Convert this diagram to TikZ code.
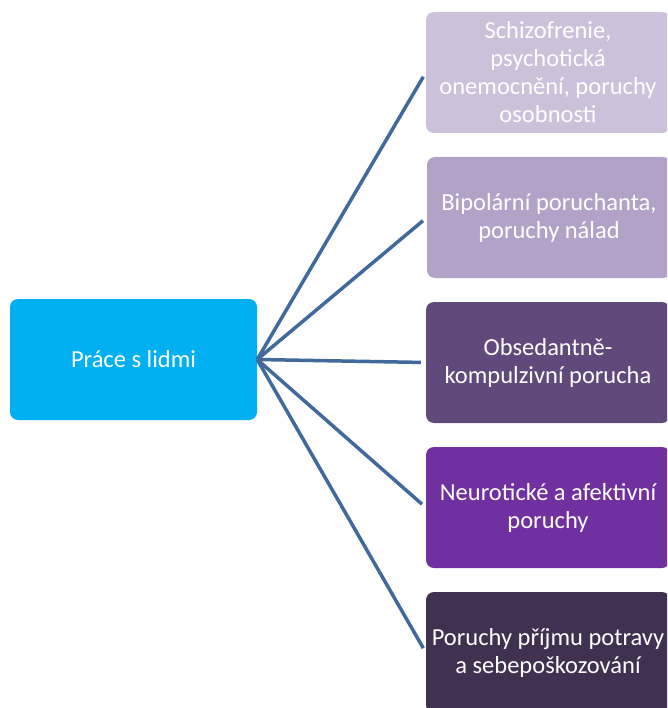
\documentclass[tikz,border=0pt]{standalone}
\usepackage{fontspec}
\setmainfont{Carlito}
\definecolor{cyanbox}{HTML}{00B0F0}
\definecolor{boxA}{HTML}{CCC1DA}
\definecolor{boxB}{HTML}{B2A2C7}
\definecolor{boxC}{HTML}{604A7B}
\definecolor{boxD}{HTML}{7030A0}
\definecolor{boxE}{HTML}{403151}
\definecolor{linkcol}{HTML}{41699C}
\begin{document}
\begin{tikzpicture}[x=1pt,y=-1pt,
  box/.style={rounded corners=8pt, inner sep=0pt, text=white, align=center,
    font=\fontsize{24.5}{28}\selectfont, minimum height=121pt},
  rbox/.style={box, minimum width=244pt},
  link/.style={draw=linkcol, line width=3.5pt, shorten >=5pt}]
\useasboundingbox (0,0) rectangle (667,708);
\clip (0,0) rectangle (667,708);
\node[box, fill=cyanbox, minimum width=247pt] (L) at (133.5,359.5) {Práce s lidmi};
\node[rbox, fill=boxA] (A) at (548,72.5) {Schizofrenie,\\psychotická\\onemocnění, poruchy\\osobnosti};
\node[rbox, fill=boxB] (B) at (549,217.5) {Bipolární poruchanta,\\poruchy nálad};
\node[rbox, fill=boxC] (C) at (548,362.5) {Obsedantně-\\kompulzivní porucha};
\node[rbox, fill=boxD] (D) at (548,507.5) {Neurotické a afektivní\\poruchy};
\node[rbox, fill=boxE] (E) at (548,652.5) {Poruchy příjmu potravy\\a sebepoškozování};
\foreach \t in {A,B,C,D,E}{
  \draw[link] (L.east) -- (\t.west);
}
\end{tikzpicture}
\end{document}
